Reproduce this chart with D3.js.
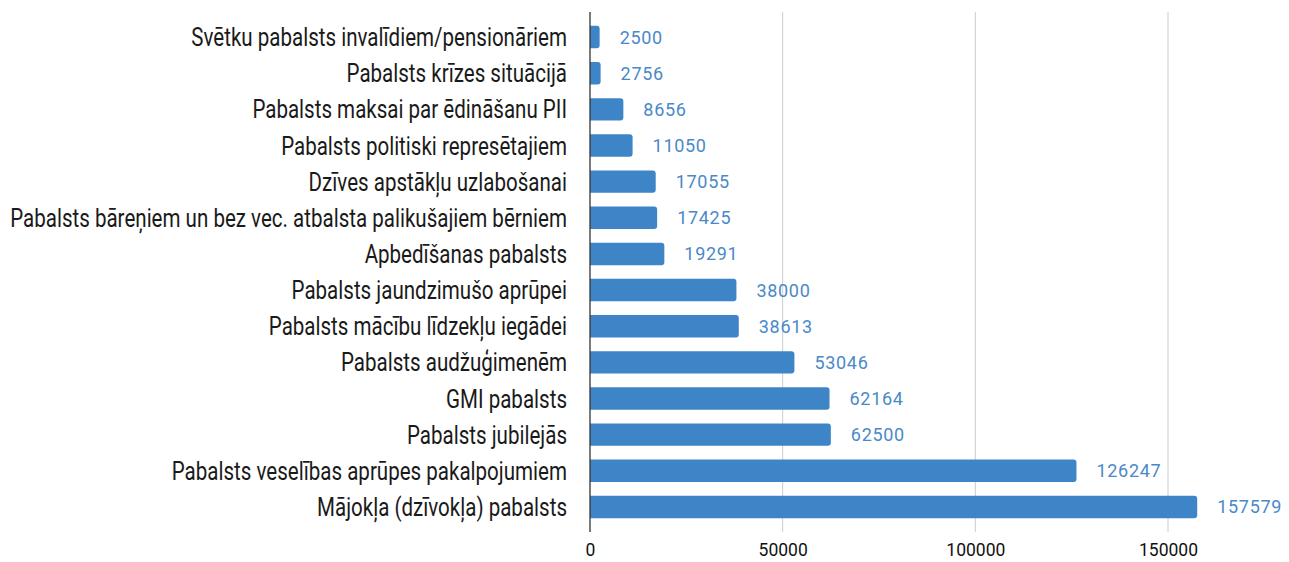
<!DOCTYPE html>
<html><head><meta charset="utf-8">
<script src="https://cdn.jsdelivr.net/npm/d3@7"></script>
<style>body{margin:0;background:#fff}svg{display:block}</style>
</head><body>
<script>
const categories = [
  "Svētku pabalsts invalīdiem/pensionāriem",
  "Pabalsts krīzes situācijā",
  "Pabalsts maksai par ēdināšanu PII",
  "Pabalsts politiski represētajiem",
  "Dzīves apstākļu uzlabošanai",
  "Pabalsts bāreņiem un bez vec. atbalsta palikušajiem bērniem",
  "Apbedīšanas pabalsts",
  "Pabalsts jaundzimušo aprūpei",
  "Pabalsts mācību līdzekļu iegādei",
  "Pabalsts audžuģimenēm",
  "GMI pabalsts",
  "Pabalsts jubilejās",
  "Pabalsts veselības aprūpes pakalpojumiem",
  "Mājokļa (dzīvokļa) pabalsts"
];
const values = [2500, 2756, 8656, 11050, 17055, 17425, 19291, 38000, 38613, 53046, 62164, 62500, 126247, 157579];
const xTicks = [0, 50000, 100000, 150000];

const W = 1289, H = 562;
const svg = d3.select("body").append("svg").attr("width", W).attr("height", H);

const x = d3.scaleLinear().domain([0, 150000]).range([590, 1168]);
const y = d3.scaleBand().domain(categories).range([19, 525]).paddingInner(0.38).paddingOuter(0.19);
const gridTop = 12, gridBottom = 532;
const blue = "#3d85c6";

// gridlines
svg.append("g").selectAll("line").data(xTicks.slice(1)).join("line")
  .attr("x1", d => x(d)).attr("x2", d => x(d))
  .attr("y1", gridTop).attr("y2", gridBottom)
  .attr("stroke", "#cccccc").attr("stroke-width", 1);

// bars with rounded right ends
const r = 3;
svg.append("g").selectAll("path").data(values).join("path")
  .attr("fill", blue)
  .attr("d", (d, i) => {
    const x0 = x(0), x1 = x(d), y0 = y(categories[i]), h = y.bandwidth();
    const rr = Math.min(r, (x1 - x0) / 2);
    return `M${x0},${y0}H${x1 - rr}Q${x1},${y0} ${x1},${y0 + rr}V${y0 + h - rr}Q${x1},${y0 + h} ${x1 - rr},${y0 + h}H${x0}Z`;
  });

// baseline axis
svg.append("line").attr("x1", x(0)).attr("x2", x(0)).attr("y1", gridTop).attr("y2", gridBottom)
  .attr("stroke", "#333").attr("stroke-width", 1.3);

// value labels
svg.append("g").selectAll("text").data(values).join("text")
  .attr("x", d => x(d) + 20)
  .attr("y", (d, i) => y(categories[i]) + y.bandwidth() / 2)
  .attr("dy", "0.36em")
  .attr("font-family", "Roboto, sans-serif").attr("font-size", 18)
  .attr("letter-spacing", 0.7)
  .attr("fill", "#4a89c8")
  .text(d => d);

// x tick labels
const xAxis = d3.axisBottom(x).tickValues(xTicks).tickSize(0).tickPadding(0).tickFormat(d3.format("d"));
const gx = svg.append("g").attr("transform", `translate(0,${gridBottom + 12})`).call(xAxis);
gx.select(".domain").remove();
gx.selectAll("text").attr("font-family", "Roboto, sans-serif").attr("font-size", 17.5).attr("fill", "#111").attr("dy", "0.71em");

// category labels (condensed look via horizontal scaling)
const labelRight = 567;
const lg = svg.append("g");
const labels = lg.selectAll("text").data(categories).join("text")
  .attr("font-family", "Roboto, sans-serif").attr("font-size", 25).attr("font-weight", 400)
  .attr("fill", "#1a1a1a").attr("text-anchor", "end")
  .attr("dy", "0.36em")
  .text(d => d);
let maxW = 0;
labels.each(function () { maxW = Math.max(maxW, this.getComputedTextLength()); });
const k = 557 / maxW;
labels.attr("transform", d => `translate(${labelRight},${y(d) + y.bandwidth() / 2}) scale(${k},1)`);
</script>
</body></html>
